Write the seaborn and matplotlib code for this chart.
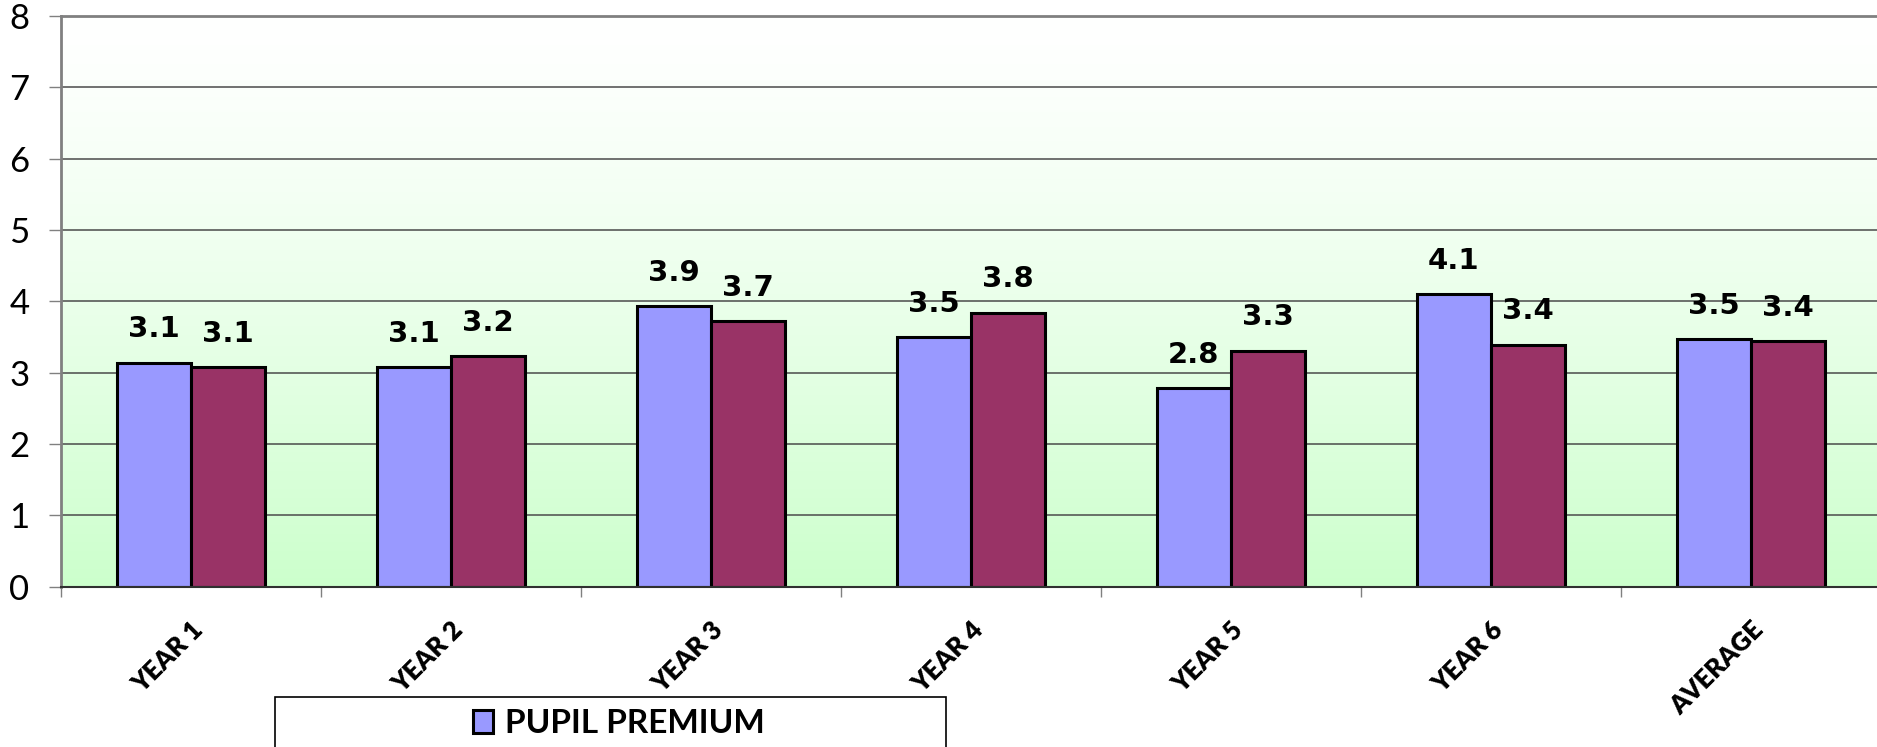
import numpy as np
import pandas as pd
import matplotlib
matplotlib.use('Agg')
import matplotlib.pyplot as plt
from matplotlib.patches import Rectangle
import seaborn as sns

# valores
categories = ['YEAR 1', 'YEAR 2', 'YEAR 3', 'YEAR 4', 'YEAR 5', 'YEAR 6', 'AVERAGE']
pupil_premium = [3.14, 3.08, 3.93, 3.50, 2.78, 4.10, 3.47]
non_pupil_premium = [3.08, 3.23, 3.72, 3.84, 3.31, 3.39, 3.44]
series_names = ['PUPIL PREMIUM', 'NON PUPIL PREMIUM']
series_colors = ['#9999FF', '#993366']
y_ticks = [0, 1, 2, 3, 4, 5, 6, 7, 8]

df = pd.DataFrame({
    'category': categories * 2,
    'value': pupil_premium + non_pupil_premium,
    'group': [series_names[0]] * len(categories) + [series_names[1]] * len(categories),
})

W, H = 1877, 747
fig = plt.figure(figsize=(W / 100, H / 100), dpi=100)
ax = fig.add_axes([61 / W, 1 - 586.7 / H, (1881 - 61) / W, (586.7 - 16) / H])

# fundo em degradê (branco -> verde claro)
grad = np.linspace(0, 1, 256).reshape(-1, 1) ** 1.3
top = np.array([1.0, 1.0, 1.0])
bot = np.array([204, 255, 204]) / 255
img = top + (bot - top) * grad[..., None]
img = img.reshape(256, 1, 3)
ax.imshow(img, extent=[0, 1, 0, 1], transform=ax.transAxes, aspect='auto', zorder=0)

sns.barplot(data=df, x='category', y='value', hue='group', palette=series_colors,
            width=0.573, edgecolor='black', linewidth=2.2, saturation=1, ax=ax, zorder=2)

for cont in ax.containers:
    ax.bar_label(cont, fmt='%.1f', padding=14, fontsize=21, fontweight='bold',
                 family='DejaVu Sans', color='black')

ax.set_xlim(-0.5, 6.5)
ax.set_ylim(0, 8)
ax.set_yticks(y_ticks)
ax.yaxis.grid(True, color='#4a4a4a', linewidth=1.1)
ax.set_axisbelow(True)

for lab in ax.get_yticklabels():
    lab.set_fontfamily('Lato')
ax.tick_params(axis='y', length=8.6, width=1, color='#808080', pad=14, labelsize=25)

ax.set_xticks(range(len(categories)))
ax.set_xticklabels(categories, rotation=45, ha='right', rotation_mode='anchor',
                   fontsize=18.5, fontweight='heavy', family='Lato')
ax.tick_params(axis='x', which='major', length=0, pad=22)
ax.set_xticks(np.arange(-0.5, 6.6, 1), minor=True)
ax.tick_params(axis='x', which='minor', length=7.2, width=1, color='#808080')

ax.set_xlabel('')
ax.set_ylabel('')

ax.spines['left'].set_color('#808080')
ax.spines['left'].set_linewidth(2)
ax.spines['top'].set_color('#808080')
ax.spines['top'].set_linewidth(2)
ax.spines['bottom'].set_color('#303030')
ax.spines['bottom'].set_linewidth(1.5)
ax.spines['right'].set_visible(False)

# legenda (caixa cortada na parte de baixo; só a primeira série aparece)
handles, labels = ax.get_legend_handles_labels()
ax.legend_.remove()
fig.patches.append(Rectangle((275 / W, -0.1), (946 - 275) / W, 0.1 + 1 - 697 / H,
                             transform=fig.transFigure, facecolor='white',
                             edgecolor='black', linewidth=1.2, zorder=5))
leg = fig.legend(handles[:1], labels[:1], loc='upper left', bbox_to_anchor=(463 / W, 1 - 699 / H),
                 frameon=False, ncol=1, prop={'family': 'Lato', 'weight': 'bold', 'size': 24},
                 handlelength=0.6, handleheight=0.7, handletextpad=0.35,
                 borderpad=0.3, borderaxespad=0)
leg.set_zorder(6)

fig.savefig('out.png', dpi=100)
